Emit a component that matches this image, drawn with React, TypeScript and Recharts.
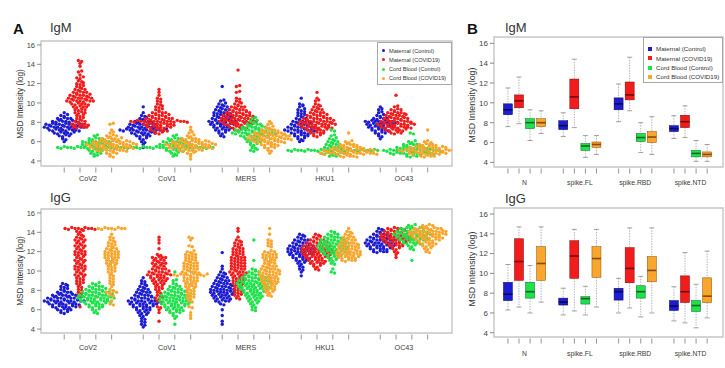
import React from "react";
import { ComposedChart, Scatter, Bar, XAxis, YAxis, ReferenceArea } from "recharts";

const groupNames = ["Maternal (Control)", "Maternal (COVID19)", "Cord Blood (Control)", "Cord Blood (COVID19)"];
const colors = ["#1c1cd0", "#f21c1c", "#1ee24a", "#f8a62c"];
const darks = ["#08085a", "#760808", "#0a6424", "#8a4806"];

const swarmLabels = ["CoV2", "CoV1", "MERS", "HKU1", "OC43"];
const boxLabels = ["N", "spike.FL", "spike.RBD", "spike.NTD"];
const yTicks = [4, 6, 8, 10, 12, 14, 16];

// IgM, log MSD intensity per sample: maternal ctl, maternal covid, cord ctl, cord covid
const igmCoV2 = [
  [9, 8.7, 8.6, 8.8, 8.4, 8.3, 8.5, 8.4, 8.4, 8.1, 8, 8.2, 8.1, 8.1, 8, 8.2, 8.1, 7.8, 7.7, 7.9, 7.8, 7.8, 7.7, 7.9, 7.8, 7.8, 7.7, 7.9, 7.8, 7.5, 7.4, 7.6, 7.5, 7.5, 7.4, 7.6, 7.5, 7.5, 7.4, 7.6, 7.5, 7.5, 7.2, 7.1, 7.3, 7.2, 7.2, 7.1, 7.3, 7.2, 7.2, 7.1, 6.9, 6.8, 7, 6.9, 6.9, 6.8, 7, 6.6, 6.5, 6.7, 6.6, 6.3, 6.2, 6],
  [14.4, 14.3, 14.1, 13.8, 13.2, 13.3, 12.9, 12.6, 12.5, 12.7, 12.3, 12.2, 12, 11.9, 12.1, 11.7, 11.6, 11.8, 11.4, 11.3, 11.5, 11.4, 11.1, 11, 11.2, 11.1, 11.1, 10.8, 10.7, 10.9, 10.8, 10.8, 10.7, 10.9, 10.5, 10.4, 10.6, 10.5, 10.5, 10.4, 10.6, 10.5, 10.2, 10.1, 10.3, 10.2, 10.2, 10.1, 10.3, 10.2, 10.2, 9.9, 9.8, 10, 9.9, 9.9, 9.8, 9.6, 9.5, 9.7, 9.6, 9.6, 9.3, 9.2, 9.4, 9.3, 9, 8.9, 9.1, 9, 8.7, 8.6, 8.8, 8.4, 8.3, 8.5, 8.1, 8, 8.2, 8.1, 7.8, 7.7, 7.9, 7.8, 7.8, 7.7, 7.5, 7.4, 7.6, 7.5, 7.5],
  [6.6, 6.7, 6.3, 6.2, 6.4, 6.3, 6.3, 6, 5.9, 6.1, 6, 6, 5.9, 6.1, 6, 6, 5.7, 5.6, 5.8, 5.7, 5.7, 5.6, 5.8, 5.7, 5.7, 5.4, 5.3, 5.5, 5.4, 5.4, 5.3, 5.5, 5.4, 5.4, 5.3, 5.5, 5.4, 5.4, 5.3, 5.5, 5.4, 5.4, 5.3, 5.5, 5.4, 5.4, 5.3, 5.5, 5.4, 5.1, 5, 5.2, 5.1, 5.1, 4.8, 4.7, 4.9, 4.8, 4.5, 4.6],
  [7.8, 7.9, 7.2, 6.9, 7, 6.6, 6.5, 6.7, 6.6, 6.3, 6.2, 6.4, 6.3, 6.3, 6.2, 6.4, 6, 5.9, 6.1, 6, 6, 5.9, 6.1, 6, 6, 5.9, 6.1, 6, 5.7, 5.6, 5.8, 5.7, 5.7, 5.6, 5.8, 5.7, 5.7, 5.6, 5.8, 5.7, 5.7, 5.6, 5.8, 5.7, 5.4, 5.3, 5.5, 5.4, 5.4, 5.3, 5.5, 5.4, 5.4, 5.3, 5.5, 5.4, 5.4, 5.3, 5.1, 5, 5.2, 5.1, 5.1, 5, 5.2, 5.1, 5.1, 5, 4.8, 4.7, 4.9, 4.8, 4.5, 4.4],
];
const igmCoV1 = [
  [9.6, 9, 8.7, 8.6, 8.4, 8.3, 8.5, 8.1, 8, 8.2, 8.1, 8.1, 8, 7.8, 7.7, 7.9, 7.8, 7.8, 7.7, 7.9, 7.8, 7.8, 7.5, 7.4, 7.6, 7.5, 7.5, 7.4, 7.6, 7.5, 7.5, 7.4, 7.2, 7.1, 7.3, 7.2, 7.2, 7.1, 7.3, 7.2, 7.2, 7.1, 7.3, 7.2, 7.2, 7.1, 7.3, 6.9, 6.8, 7, 6.9, 6.9, 6.8, 7, 6.9, 6.6, 6.5, 6.7, 6.6, 6.6, 6.3, 6.2, 6.4, 6, 5.9, 5.7, 5.4],
  [11.4, 11.1, 10.8, 10.5, 10.4, 10.2, 10.1, 9.9, 9.8, 9.6, 9.5, 9.7, 9.3, 9.2, 9.4, 9, 8.9, 9.1, 9, 9, 8.7, 8.6, 8.8, 8.7, 8.7, 8.6, 8.8, 8.4, 8.3, 8.5, 8.4, 8.4, 8.3, 8.5, 8.4, 8.4, 8.1, 8, 8.2, 8.1, 8.1, 8, 8.2, 8.1, 8.1, 8, 8.2, 8.1, 8.1, 8, 8.2, 8.1, 8.1, 8, 7.8, 7.7, 7.9, 7.8, 7.8, 7.7, 7.9, 7.8, 7.8, 7.7, 7.5, 7.4, 7.6, 7.5, 7.5, 7.4, 7.6, 7.5, 7.2, 7.1, 7.3, 7.2, 7.2, 7.1, 6.9, 6.8, 7],
  [6.6, 6.7, 6.3, 6.2, 6.4, 6.3, 6.3, 6, 5.9, 6.1, 6, 6, 5.9, 6.1, 6, 5.7, 5.6, 5.8, 5.7, 5.7, 5.6, 5.8, 5.7, 5.7, 5.6, 5.4, 5.3, 5.5, 5.4, 5.4, 5.3, 5.5, 5.4, 5.4, 5.3, 5.5, 5.4, 5.4, 5.3, 5.5, 5.4, 5.4, 5.3, 5.5, 5.4, 5.4, 5.3, 5.5, 5.4, 5.1, 5, 5.2, 5.1, 5.1, 5, 4.8, 4.7, 4.9, 4.5, 4.6],
  [7.5, 7.2, 6.9, 7, 6.6, 6.5, 6.7, 6.3, 6.2, 6.4, 6.3, 6.3, 6.2, 6, 5.9, 6.1, 6, 6, 5.9, 6.1, 6, 6, 5.9, 6.1, 6, 5.7, 5.6, 5.8, 5.7, 5.7, 5.6, 5.8, 5.7, 5.7, 5.6, 5.8, 5.7, 5.7, 5.6, 5.8, 5.7, 5.4, 5.3, 5.5, 5.4, 5.4, 5.3, 5.5, 5.4, 5.4, 5.3, 5.5, 5.4, 5.4, 5.3, 5.1, 5, 5.2, 5.1, 5.1, 5, 5.2, 5.1, 4.8, 4.7, 4.9, 4.5, 4.2],
];
const igmMERS = [
  [11.7, 10.2, 10.3, 9.9, 9.8, 10, 9.6, 9.5, 9.7, 9.6, 9.3, 9.2, 9.4, 9.3, 9.3, 9, 8.9, 9.1, 9, 9, 8.9, 8.7, 8.6, 8.8, 8.7, 8.7, 8.6, 8.4, 8.3, 8.5, 8.4, 8.4, 8.3, 8.5, 8.1, 8, 8.2, 8.1, 8.1, 8, 8.2, 8.1, 8.1, 7.8, 7.7, 7.9, 7.8, 7.8, 7.7, 7.9, 7.8, 7.5, 7.4, 7.6, 7.5, 7.5, 7.4, 7.2, 7.1, 7.3, 7.2, 7.2, 6.9, 6.8, 7, 6.6, 6.5],
  [13.4, 11.7, 11.8, 11.1, 11.2, 10.5, 10.4, 10.2, 10.1, 9.9, 9.8, 10, 9.6, 9.5, 9.7, 9.6, 9.6, 9.3, 9.2, 9.4, 9.3, 9.3, 9.2, 9, 8.9, 9.1, 9, 9, 8.9, 9.1, 9, 8.7, 8.6, 8.8, 8.7, 8.7, 8.6, 8.8, 8.7, 8.7, 8.6, 8.4, 8.3, 8.5, 8.4, 8.4, 8.3, 8.5, 8.4, 8.4, 8.3, 8.5, 8.1, 8, 8.2, 8.1, 8.1, 8, 8.2, 8.1, 8.1, 8, 8.2, 8.1, 7.8, 7.7, 7.9, 7.8, 7.8, 7.7, 7.9, 7.8, 7.8, 7.5, 7.4, 7.6, 7.5, 7.5, 7.4, 7.2, 7.1, 7.3],
  [8.4, 8.5, 8.1, 8, 8.2, 7.8, 7.7, 7.9, 7.8, 7.8, 7.5, 7.4, 7.6, 7.5, 7.5, 7.4, 7.6, 7.5, 7.2, 7.1, 7.3, 7.2, 7.2, 7.1, 7.3, 7.2, 7.2, 7.1, 7.3, 7.2, 6.9, 6.8, 7, 6.9, 6.9, 6.8, 7, 6.9, 6.9, 6.8, 7, 6.9, 6.9, 6.8, 6.6, 6.5, 6.7, 6.6, 6.6, 6.5, 6.7, 6.6, 6.6, 6.3, 6.2, 6.4, 6.3, 6.3, 6.2, 6, 5.9, 6.1, 6, 6, 5.7, 5.6, 5.8, 5.4, 5.3, 5.1, 5, 5.2],
  [8.1, 7.8, 7.9, 7.5, 7.4, 7.6, 7.2, 7.1, 7.3, 7.2, 7.2, 7.1, 6.9, 6.8, 7, 6.9, 6.9, 6.8, 7, 6.9, 6.9, 6.8, 6.6, 6.5, 6.7, 6.6, 6.6, 6.5, 6.7, 6.6, 6.6, 6.5, 6.7, 6.6, 6.6, 6.3, 6.2, 6.4, 6.3, 6.3, 6.2, 6.4, 6.3, 6.3, 6.2, 6.4, 6.3, 6.3, 6.2, 6, 5.9, 6.1, 6, 6, 5.9, 6.1, 6, 6, 5.9, 5.7, 5.6, 5.8, 5.7, 5.7, 5.6, 5.4, 5.3, 5.5, 5.4, 5.1, 5, 4.8],
];
const igmHKU1 = [
  [10.5, 9.9, 9.8, 9.6, 9.7, 9.3, 9.2, 9.4, 9, 8.9, 9.1, 8.7, 8.6, 8.8, 8.4, 8.3, 8.5, 8.4, 8.1, 8, 8.2, 8.1, 8.1, 8, 7.8, 7.7, 7.9, 7.8, 7.8, 7.7, 7.9, 7.5, 7.4, 7.6, 7.5, 7.5, 7.4, 7.6, 7.5, 7.5, 7.2, 7.1, 7.3, 7.2, 7.2, 7.1, 7.3, 7.2, 7.2, 7.1, 7.3, 6.9, 6.8, 7, 6.9, 6.9, 6.8, 7, 6.6, 6.5, 6.7, 6.6, 6.6, 6.3, 6.2, 6.4, 6, 6.1],
  [11.1, 10.5, 10.2, 10.3, 9.9, 9.8, 9.6, 9.5, 9.7, 9.3, 9.2, 9.4, 9.3, 9, 8.9, 9.1, 9, 9, 8.7, 8.6, 8.8, 8.7, 8.7, 8.6, 8.8, 8.4, 8.3, 8.5, 8.4, 8.4, 8.3, 8.5, 8.4, 8.4, 8.1, 8, 8.2, 8.1, 8.1, 8, 8.2, 8.1, 8.1, 8, 8.2, 7.8, 7.7, 7.9, 7.8, 7.8, 7.7, 7.9, 7.8, 7.8, 7.7, 7.9, 7.8, 7.5, 7.4, 7.6, 7.5, 7.5, 7.4, 7.6, 7.5, 7.5, 7.4, 7.2, 7.1, 7.3, 7.2, 7.2, 7.1, 7.3, 6.9, 6.8, 7, 6.9, 6.9, 6.6, 6.5, 6.7],
  [7.2, 7.1, 6.6, 6.7, 6.3, 6.2, 6.4, 6, 5.9, 6.1, 6, 5.7, 5.6, 5.8, 5.7, 5.7, 5.4, 5.3, 5.5, 5.4, 5.4, 5.3, 5.1, 5, 5.2, 5.1, 5.1, 5, 5.2, 5.1, 5.1, 5, 5.2, 5.1, 5.1, 5, 5.2, 5.1, 5.1, 5, 5.2, 5.1, 5.1, 5, 5.2, 5.1, 5.1, 5, 5.2, 5.1, 4.8, 4.7, 4.9, 4.8, 4.8, 4.7, 4.9, 4.8, 4.5, 4.6, 4.5],
  [6.9, 6, 5.9, 6.1, 5.7, 5.6, 5.8, 5.7, 5.7, 5.6, 5.4, 5.3, 5.5, 5.4, 5.4, 5.3, 5.5, 5.4, 5.4, 5.3, 5.1, 5, 5.2, 5.1, 5.1, 5, 5.2, 5.1, 5.1, 5, 5.2, 5.1, 5.1, 5, 5.2, 5.1, 4.8, 4.7, 4.9, 4.8, 4.8, 4.7, 4.9, 4.8, 4.8, 4.7, 4.9, 4.8, 4.8, 4.7, 4.9, 4.8, 4.8, 4.7, 4.5, 4.4, 4.6, 4.5, 4.5, 4.4],
];
const igmOC43 = [
  [9.6, 9.3, 9.4, 9, 9.1, 8.7, 8.6, 8.8, 8.4, 8.3, 8.5, 8.4, 8.4, 8.1, 8, 8.2, 8.1, 8.1, 8, 8.2, 8.1, 8.1, 8, 7.8, 7.7, 7.9, 7.8, 7.8, 7.7, 7.9, 7.8, 7.8, 7.5, 7.4, 7.6, 7.5, 7.5, 7.4, 7.6, 7.5, 7.2, 7.1, 7.3, 7.2, 7.2, 7.1, 6.9, 6.8, 7, 6.9, 6.6, 6.5, 6.3],
  [10.8, 9.6, 9.7, 9.3, 9.2, 9.4, 9.3, 9, 8.9, 9.1, 9, 9, 8.9, 8.7, 8.6, 8.8, 8.7, 8.7, 8.6, 8.8, 8.4, 8.3, 8.5, 8.4, 8.4, 8.3, 8.5, 8.4, 8.1, 8, 8.2, 8.1, 8.1, 8, 8.2, 8.1, 8.1, 8, 7.8, 7.7, 7.9, 7.8, 7.8, 7.7, 7.9, 7.8, 7.8, 7.7, 7.9, 7.8, 7.5, 7.4, 7.6, 7.5, 7.5, 7.4, 7.6, 7.5, 7.5, 7.4, 7.2, 7.1, 7.3, 7.2, 7.2, 7.1, 7.3, 6.9, 6.8, 7, 6.9],
  [6.9, 6.8, 6, 5.9, 6.1, 5.7, 5.6, 5.8, 5.7, 5.7, 5.6, 5.4, 5.3, 5.5, 5.4, 5.4, 5.3, 5.5, 5.4, 5.4, 5.3, 5.1, 5, 5.2, 5.1, 5.1, 5, 5.2, 5.1, 5.1, 5, 5.2, 5.1, 5.1, 5, 5.2, 5.1, 5.1, 5, 4.8, 4.7, 4.9, 4.8, 4.8, 4.7, 4.9, 4.8, 4.8, 4.7, 4.9, 4.8, 4.8, 4.7, 4.5, 4.4, 4.6, 4.5],
  [7.2, 6, 6.1, 5.9, 5.7, 5.6, 5.8, 5.7, 5.7, 5.6, 5.4, 5.3, 5.5, 5.4, 5.4, 5.3, 5.5, 5.4, 5.4, 5.3, 5.5, 5.4, 5.1, 5, 5.2, 5.1, 5.1, 5, 5.2, 5.1, 5.1, 5, 5.2, 5.1, 5.1, 5, 5.2, 5.1, 5.1, 5, 4.8, 4.7, 4.9, 4.8, 4.8, 4.7, 4.9, 4.8, 4.8, 4.7, 4.9, 4.8, 4.5, 4.4, 4.6, 4.5, 4.5],
];

// IgG, same order
const iggCoV2 = [
  [8.7, 8.6, 8.4, 8.3, 8.5, 8.1, 8, 8.2, 7.8, 7.7, 7.9, 7.8, 7.8, 7.5, 7.4, 7.6, 7.5, 7.5, 7.4, 7.6, 7.5, 7.2, 7.1, 7.3, 7.2, 7.2, 7.1, 7.3, 7.2, 7.2, 7.1, 7.3, 6.9, 6.8, 7, 6.9, 6.9, 6.8, 7, 6.9, 6.9, 6.8, 7, 6.9, 6.9, 6.6, 6.5, 6.7, 6.6, 6.6, 6.5, 6.7, 6.6, 6.6, 6.5, 6.3, 6.2, 6.4, 6.3, 6.3, 6.2, 6.4, 6.3, 6, 5.9, 6.1, 6, 6, 5.7, 5.6, 5.8],
  [14.4, 14.3, 14.5, 14.4, 14.4, 14.3, 14.5, 14.4, 14.4, 14.3, 14.1, 14, 14.2, 13.8, 13.7, 13.5, 13.4, 13.6, 13.2, 13.1, 13.3, 13.2, 12.9, 12.8, 13, 12.6, 12.5, 12.7, 12.6, 12.3, 12.2, 12.4, 12, 11.9, 12.1, 12, 11.7, 11.6, 11.8, 11.7, 11.4, 11.3, 11.5, 11.1, 11, 11.2, 11.1, 10.8, 10.7, 10.9, 10.5, 10.4, 10.6, 10.5, 10.2, 10.1, 10.3, 10.2, 9.9, 9.8, 10, 9.6, 9.5, 9.7, 9.6, 9.3, 9.2, 9.4, 9, 8.9, 9.1, 8.7, 8.6, 8.8, 8.4, 8.3, 8.1, 8, 7.8, 7.7, 7.5, 7.4, 6.3],
  [8.7, 8.6, 8.8, 8.4, 8.3, 8.5, 8.4, 8.4, 8.1, 8, 8.2, 8.1, 8.1, 8, 8.2, 7.8, 7.7, 7.9, 7.8, 7.8, 7.7, 7.9, 7.8, 7.8, 7.5, 7.4, 7.6, 7.5, 7.5, 7.4, 7.6, 7.5, 7.5, 7.4, 7.6, 7.2, 7.1, 7.3, 7.2, 7.2, 7.1, 7.3, 7.2, 7.2, 7.1, 7.3, 7.2, 6.9, 6.8, 7, 6.9, 6.9, 6.8, 7, 6.9, 6.9, 6.8, 6.6, 6.5, 6.7, 6.6, 6.6, 6.5, 6.7, 6.3, 6.2, 6.4, 6.3, 6.3, 6, 5.9, 6.1, 5.7, 5.6],
  [14.4, 14.3, 14.5, 14.4, 14.4, 14.3, 14.5, 14.4, 14.4, 13.8, 13.5, 13.4, 13.2, 13.1, 12.9, 12.8, 13, 12.6, 12.5, 12.7, 12.3, 12.2, 12.4, 12.3, 12, 11.9, 12.1, 12, 12, 11.7, 11.6, 11.8, 11.7, 11.7, 11.4, 11.3, 11.5, 11.4, 11.4, 11.1, 11, 11.2, 11.1, 10.8, 10.7, 10.9, 10.8, 10.5, 10.4, 10.6, 10.2, 10.1, 10.3, 9.9, 9.8, 10, 9.6, 9.5, 9.3, 9.2, 9, 8.9, 8.7, 8.6, 8.4, 8.1, 8, 7.8, 7.7, 7.9, 7.8, 7.5, 7.4, 6.9, 6.6, 6.5],
];
const iggCoV1 = [
  [9.3, 9, 8.9, 8.7, 8.6, 8.4, 8.3, 8.5, 8.1, 8, 8.2, 8.1, 7.8, 7.7, 7.9, 7.8, 7.8, 7.5, 7.4, 7.6, 7.5, 7.5, 7.4, 7.2, 7.1, 7.3, 7.2, 7.2, 7.1, 7.3, 7.2, 6.9, 6.8, 7, 6.9, 6.9, 6.8, 7, 6.9, 6.9, 6.8, 6.6, 6.5, 6.7, 6.6, 6.6, 6.5, 6.7, 6.6, 6.6, 6.3, 6.2, 6.4, 6.3, 6.3, 6.2, 6.4, 6, 5.9, 6.1, 6, 6, 5.7, 5.6, 5.8, 5.7, 5.4, 5.3, 5.5, 5.1, 5, 4.8, 4.7, 4.5, 4.4, 4.2],
  [13.5, 13.2, 12.9, 12.3, 11.7, 11.6, 11.4, 11.3, 11.5, 11.4, 11.4, 11.1, 11, 11.2, 11.1, 10.8, 10.7, 10.9, 10.8, 10.8, 10.5, 10.4, 10.6, 10.5, 10.2, 10.1, 10.3, 10.2, 10.2, 9.9, 9.8, 10, 9.9, 9.9, 9.8, 10, 9.6, 9.5, 9.7, 9.6, 9.6, 9.5, 9.7, 9.6, 9.3, 9.2, 9.4, 9.3, 9.3, 9.2, 9, 8.9, 9.1, 9, 9, 8.7, 8.6, 8.8, 8.7, 8.4, 8.3, 8.5, 8.1, 8, 8.2, 7.8, 7.7, 7.5, 7.4, 7.2, 7.1, 7.3, 6.9, 6.8, 6.3, 6.2, 6, 5.7, 4.8],
  [9.9, 9, 9.1, 8.7, 8.6, 8.4, 8.3, 8.5, 8.4, 8.1, 8, 8.2, 8.1, 8.1, 7.8, 7.7, 7.9, 7.8, 7.8, 7.7, 7.9, 7.5, 7.4, 7.6, 7.5, 7.5, 7.4, 7.6, 7.5, 7.5, 7.2, 7.1, 7.3, 7.2, 7.2, 7.1, 7.3, 7.2, 7.2, 7.1, 6.9, 6.8, 7, 6.9, 6.9, 6.8, 7, 6.9, 6.9, 6.8, 6.6, 6.5, 6.7, 6.6, 6.6, 6.5, 6.7, 6.6, 6.6, 6.3, 6.2, 6.4, 6.3, 6.3, 6.2, 6.4, 6, 5.9, 6.1, 6, 6, 5.9, 5.7, 5.6, 5.8, 5.7, 5.4, 5.3, 5.1, 4.5],
  [13.5, 13.4, 13.2, 12.6, 12.5, 12, 11.9, 12.1, 11.7, 11.6, 11.8, 11.7, 11.4, 11.3, 11.5, 11.4, 11.1, 11, 11.2, 11.1, 10.8, 10.7, 10.9, 10.8, 10.8, 10.5, 10.4, 10.6, 10.5, 10.5, 10.2, 10.1, 10.3, 10.2, 10.2, 9.9, 9.8, 10, 9.9, 9.9, 9.8, 9.6, 9.5, 9.7, 9.6, 9.6, 9.5, 9.7, 9.6, 9.6, 9.5, 9.7, 9.3, 9.2, 9.4, 9.3, 9.3, 9, 8.9, 9.1, 9, 9, 8.7, 8.6, 8.8, 8.7, 8.4, 8.3, 8.5, 8.4, 8.1, 8, 8.2, 7.8, 7.7, 7.9, 7.5, 7.4, 7.6, 7.2, 7.1, 7.3, 6.9, 6.8, 6.3, 6.2, 5.7, 5.4, 5.1],
];
const iggMERS = [
  [11.9, 10.5, 10.2, 9.9, 9.8, 9.6, 9.5, 9.7, 9.3, 9.2, 9.4, 9.3, 9, 8.9, 9.1, 9, 9, 8.7, 8.6, 8.8, 8.7, 8.7, 8.6, 8.4, 8.3, 8.5, 8.4, 8.4, 8.3, 8.5, 8.1, 8, 8.2, 8.1, 8.1, 8, 8.2, 8.1, 7.8, 7.7, 7.9, 7.8, 7.8, 7.7, 7.9, 7.8, 7.5, 7.4, 7.6, 7.5, 7.5, 7.4, 7.6, 7.2, 7.1, 7.3, 7.2, 7.2, 7.1, 6.9, 6.8, 7, 6.9, 6.9, 6.6, 6.5, 6, 5.4, 4.8, 4.5],
  [14.4, 14.1, 13.5, 13.2, 13.1, 12.9, 12.8, 13, 12.6, 12.5, 12.7, 12.3, 12.2, 12.4, 12.3, 12, 11.9, 12.1, 12, 11.7, 11.6, 11.8, 11.7, 11.4, 11.3, 11.5, 11.4, 11.4, 11.1, 11, 11.2, 11.1, 11.1, 10.8, 10.7, 10.9, 10.8, 10.8, 10.5, 10.4, 10.6, 10.5, 10.5, 10.2, 10.1, 10.3, 10.2, 10.2, 9.9, 9.8, 10, 9.9, 9.9, 9.8, 9.6, 9.5, 9.7, 9.6, 9.6, 9.3, 9.2, 9.4, 9.3, 9, 8.9, 9.1, 9, 8.7, 8.6, 8.8, 8.7, 8.4, 8.3, 8.5, 8.1, 8, 8.2, 7.8, 7.7, 7.9, 7.5, 7.4, 7.6, 7.2, 7.1],
  [13.2, 11.1, 10.2, 10.1, 9.9, 9.8, 10, 9.9, 9.6, 9.5, 9.7, 9.6, 9.6, 9.5, 9.3, 9.2, 9.4, 9.3, 9.3, 9.2, 9.4, 9.3, 9, 8.9, 9.1, 9, 9, 8.9, 9.1, 9, 9, 8.9, 8.7, 8.6, 8.8, 8.7, 8.7, 8.6, 8.8, 8.7, 8.7, 8.6, 8.8, 8.4, 8.3, 8.5, 8.4, 8.4, 8.3, 8.5, 8.4, 8.4, 8.3, 8.1, 8, 8.2, 8.1, 8.1, 8, 8.2, 8.1, 8.1, 7.8, 7.7, 7.9, 7.8, 7.8, 7.7, 7.9, 7.5, 7.4, 7.6, 7.5, 7.5, 7.4, 7.2, 7.1, 7.3, 7.2, 7.2, 6.9, 6.8, 7, 6.9, 6.6, 6.5, 6.7, 6.3, 6.2, 6, 5.9],
  [14.4, 13.8, 13.2, 13.1, 12.9, 12.8, 12.6, 12.5, 12, 11.9, 12.1, 12, 11.7, 11.6, 11.8, 11.7, 11.7, 11.4, 11.3, 11.5, 11.4, 11.4, 11.1, 11, 11.2, 11.1, 10.8, 10.7, 10.9, 10.8, 10.5, 10.4, 10.6, 10.5, 10.5, 10.2, 10.1, 10.3, 10.2, 10.2, 10.1, 9.9, 9.8, 10, 9.9, 9.9, 9.8, 10, 9.6, 9.5, 9.7, 9.6, 9.6, 9.5, 9.7, 9.3, 9.2, 9.4, 9.3, 9.3, 9.2, 9, 8.9, 9.1, 9, 9, 8.9, 8.7, 8.6, 8.8, 8.7, 8.7, 8.4, 8.3, 8.5, 8.4, 8.1, 8, 8.2, 8.1, 7.8, 7.7, 7.9, 7.5, 7.4],
];
const iggHKU1 = [
  [13.8, 13.7, 13.5, 13.4, 13.6, 13.2, 13.1, 13.3, 13.2, 13.2, 12.9, 12.8, 13, 12.9, 12.9, 12.8, 12.6, 12.5, 12.7, 12.6, 12.6, 12.5, 12.7, 12.6, 12.3, 12.2, 12.4, 12.3, 12.3, 12.2, 12.4, 12.3, 12.3, 12, 11.9, 12.1, 12, 12, 11.9, 12.1, 12, 12, 11.7, 11.6, 11.8, 11.7, 11.7, 11.6, 11.8, 11.7, 11.4, 11.3, 11.5, 11.4, 11.4, 11.3, 11.1, 11, 11.2, 11.1, 10.8, 10.7, 10.9, 10.5, 10.4, 10.2, 10.1, 9.9, 9.5],
  [13.8, 13.7, 13.5, 13.4, 13.6, 13.2, 13.1, 13.3, 13.2, 13.2, 12.9, 12.8, 13, 12.9, 12.9, 12.8, 13, 12.6, 12.5, 12.7, 12.6, 12.6, 12.5, 12.7, 12.6, 12.6, 12.3, 12.2, 12.4, 12.3, 12.3, 12.2, 12.4, 12.3, 12.3, 12.2, 12, 11.9, 12.1, 12, 12, 11.9, 12.1, 12, 12, 11.9, 11.7, 11.6, 11.8, 11.7, 11.7, 11.6, 11.8, 11.7, 11.7, 11.4, 11.3, 11.5, 11.4, 11.4, 11.3, 11.5, 11.4, 11.1, 11, 11.2, 11.1, 11.1, 11, 10.8, 10.7, 10.9, 10.8, 10.8, 10.5, 10.4, 10.6, 10.2, 10.1],
  [14.1, 14, 13.8, 13.7, 13.9, 13.8, 13.5, 13.4, 13.6, 13.5, 13.5, 13.4, 13.2, 13.1, 13.3, 13.2, 13.2, 13.1, 13.3, 13.2, 12.9, 12.8, 13, 12.9, 12.9, 12.8, 13, 12.9, 12.9, 12.6, 12.5, 12.7, 12.6, 12.6, 12.5, 12.7, 12.6, 12.6, 12.5, 12.3, 12.2, 12.4, 12.3, 12.3, 12.2, 12.4, 12.3, 12.3, 12, 11.9, 12.1, 12, 12, 11.9, 12.1, 12, 11.7, 11.6, 11.8, 11.7, 11.7, 11.6, 11.4, 11.3, 11.5, 11.4, 11.1, 11, 11.2, 10.8, 10.7, 10.2, 9.9, 9.8],
  [14.4, 14.1, 14, 13.8, 13.7, 13.9, 13.5, 13.4, 13.6, 13.5, 13.2, 13.1, 13.3, 13.2, 13.2, 12.9, 12.8, 13, 12.9, 12.9, 12.8, 12.6, 12.5, 12.7, 12.6, 12.6, 12.5, 12.7, 12.3, 12.2, 12.4, 12.3, 12.3, 12.2, 12.4, 12, 11.9, 12.1, 12, 12, 11.9, 12.1, 12, 11.7, 11.6, 11.8, 11.7, 11.7, 11.6, 11.8, 11.7, 11.4, 11.3, 11.5, 11.4, 11.4, 11.3, 11.5, 11.1, 11, 11.2, 11.1, 11.1],
];
const iggOC43 = [
  [14.4, 14.3, 14.1, 14, 14.2, 13.8, 13.7, 13.9, 13.8, 13.8, 13.5, 13.4, 13.6, 13.5, 13.5, 13.4, 13.6, 13.2, 13.1, 13.3, 13.2, 13.2, 13.1, 13.3, 13.2, 13.2, 12.9, 12.8, 13, 12.9, 12.9, 12.8, 13, 12.9, 12.9, 12.8, 12.6, 12.5, 12.7, 12.6, 12.6, 12.5, 12.7, 12.6, 12.6, 12.3, 12.2, 12.4, 12.3, 12.3, 12.2, 12.4, 12, 11.9, 12.1, 12, 12],
  [14.4, 14.3, 14.5, 14.4, 14.4, 14.3, 14.1, 14, 14.2, 14.1, 14.1, 14, 14.2, 14.1, 13.8, 13.7, 13.9, 13.8, 13.8, 13.7, 13.9, 13.8, 13.8, 13.7, 13.5, 13.4, 13.6, 13.5, 13.5, 13.4, 13.6, 13.5, 13.5, 13.4, 13.2, 13.1, 13.3, 13.2, 13.2, 13.1, 13.3, 13.2, 13.2, 12.9, 12.8, 13, 12.9, 12.9, 12.8, 13, 12.6, 12.5, 12.7, 12.6, 12.6, 12.3, 12.2, 12.4, 12, 11.9, 11.7, 11.4],
  [14.7, 14.6, 14.8, 14.4, 14.3, 14.5, 14.4, 14.4, 14.3, 14.5, 14.4, 14.1, 14, 14.2, 14.1, 14.1, 14, 14.2, 14.1, 14.1, 14, 13.8, 13.7, 13.9, 13.8, 13.8, 13.7, 13.9, 13.8, 13.8, 13.7, 13.9, 13.8, 13.5, 13.4, 13.6, 13.5, 13.5, 13.4, 13.6, 13.5, 13.5, 13.4, 13.2, 13.1, 13.3, 13.2, 13.2, 13.1, 13.3, 13.2, 12.9, 12.8, 13, 12.9, 12.9, 12.8, 12.6, 12.5, 12.7, 12.3, 12.2, 11.1],
  [14.7, 14.6, 14.8, 14.7, 14.4, 14.3, 14.5, 14.4, 14.4, 14.3, 14.5, 14.4, 14.4, 14.1, 14, 14.2, 14.1, 14.1, 14, 14.2, 14.1, 14.1, 14, 14.2, 14.1, 13.8, 13.7, 13.9, 13.8, 13.8, 13.7, 13.9, 13.8, 13.8, 13.7, 13.9, 13.8, 13.5, 13.4, 13.6, 13.5, 13.5, 13.4, 13.6, 13.5, 13.5, 13.4, 13.2, 13.1, 13.3, 13.2, 13.2, 13.1, 13.3, 13.2, 12.9, 12.8, 13, 12.9, 12.9, 12.8, 12.6, 12.5, 12.7, 12.6, 12.3, 12.2, 12.4, 12, 11.9],
];

// panel B box stats per group: [min, q1, median, q3, max]
const igmN = [[7.6, 8.8, 9.3, 9.9, 11.5], [7.9, 9.5, 10.2, 10.8, 12.6], [6.2, 7.4, 8.0, 8.4, 9.3], [6.9, 7.6, 8.0, 8.4, 9.2]];
const igmFL = [[6.6, 7.3, 7.7, 8.2, 9.0], [7.5, 9.4, 10.6, 12.4, 14.4], [4.5, 5.2, 5.65, 5.9, 6.7], [4.8, 5.5, 5.8, 6.05, 6.7]];
const igmRBD = [[8.1, 9.3, 9.9, 10.5, 11.9], [9.2, 10.3, 10.8, 12.1, 14.6], [5.0, 6.1, 6.5, 6.9, 8.0], [4.8, 6.0, 6.55, 7.1, 8.6]];
const igmNTD = [[6.4, 7.1, 7.4, 7.7, 8.7], [6.5, 7.5, 8.1, 8.75, 9.7], [4.1, 4.55, 4.9, 5.2, 6.2], [4.1, 4.55, 4.8, 5.05, 5.8]];
const iggN = [[6.3, 7.25, 7.9, 9.1, 10.9], [6.6, 9.3, 11.2, 13.5, 14.7], [6.0, 7.5, 8.15, 9.1, 10.8], [7.1, 9.3, 11.0, 12.7, 14.7]];
const iggFL = [[5.8, 6.8, 7.1, 7.5, 8.5], [6.2, 9.5, 11.75, 13.3, 14.45], [5.8, 6.9, 7.45, 7.65, 8.7], [6.6, 9.6, 11.5, 12.7, 14.45]];
const iggRBD = [[6.0, 7.3, 8.15, 8.5, 9.5], [6.5, 9.05, 10.5, 12.6, 14.6], [5.6, 7.5, 8.15, 8.75, 9.7], [6.0, 9.15, 10.3, 11.7, 14.6]];
const iggNTD = [[5.2, 6.25, 6.7, 7.25, 8.65], [5.0, 7.05, 8.15, 9.75, 12.1], [4.5, 6.15, 6.75, 7.25, 8.9], [5.5, 7.05, 7.7, 9.55, 12.25]];

const igmSwarm = [igmCoV2, igmCoV1, igmMERS, igmHKU1, igmOC43];
const iggSwarm = [iggCoV2, iggCoV1, iggMERS, iggHKU1, iggOC43];
const igmBox = [igmN, igmFL, igmRBD, igmNTD];
const iggBox = [iggN, iggFL, iggRBD, iggNTD];

const pos = (g: number, s: number) => g * 5 + s + 1;
const BIN = 0.3;
const STEP = 0.21;

function swarmPoints(panel: number[][][]) {
  const pts: { x: number; y: number; c: number }[] = [];
  panel.forEach((ag, g) =>
    ag.forEach((vals, s) => {
      const rows = new Map<number, number[]>();
      vals.forEach((v) => {
        const k = Math.round(v / BIN);
        if (!rows.has(k)) rows.set(k, []);
        rows.get(k)!.push(v);
      });
      rows.forEach((r) => r.forEach((v, i) => pts.push({ x: pos(g, s) + (i - (r.length - 1) / 2) * STEP, y: v, c: s })));
    })
  );
  return pts;
}

function quantile(s: number[], p: number) {
  const h = (s.length - 1) * p;
  const lo = Math.floor(h);
  return s[lo] + (h - lo) * (s[Math.ceil(h)] - s[lo]);
}

function fiveNum(vals: number[]) {
  const s = [...vals].sort((a, b) => a - b);
  const q1 = quantile(s, 0.25);
  const med = quantile(s, 0.5);
  const q3 = quantile(s, 0.75);
  const f = 1.5 * (q3 - q1);
  const lo = s.find((v) => v >= q1 - f)!;
  const hi = [...s].reverse().find((v) => v <= q3 + f)!;
  return [lo, q1, med, q3, hi];
}

const groupTicks = (n: number) =>
  Array.from({ length: n }, (_, g) => [pos(g, 0), pos(g, 1), pos(g, 0) + 1.5, pos(g, 2), pos(g, 3)]).flat();

const makeTick = (labels: string[], off: number, fs: number) => (p: any) => {
  const v = p.payload.value;
  if (Number.isInteger(v))
    return <line x1={p.x} x2={p.x} y1={p.y + 1.5} y2={p.y + 6.5} stroke="#7a7a7a" strokeWidth={0.8} />;
  return (
    <text x={p.x} y={p.y + off} textAnchor="middle" dominantBaseline="central" fontSize={fs} fill="#3a3a3a">
      {labels[Math.floor(v / 5)]}
    </text>
  );
};

function boxGeom(props: any) {
  const { x, y, width, height, payload } = props;
  const [lo, q1, med, q3, hi] = payload.s;
  const top = Math.min(y, y + height);
  const h = Math.abs(height);
  const k = q3 > q1 ? h / (q3 - q1) : 0;
  const at = (v: number) => top + (q3 - v) * k;
  return { x, width, top, h, cx: x + width / 2, yHi: at(hi), yLo: at(lo), yMed: at(med), c: payload.c };
}

function GrayBox(props: any) {
  const b = boxGeom(props);
  const cap = b.width * 0.25;
  return (
    <g>
      <line x1={b.cx} x2={b.cx} y1={b.yHi} y2={b.top} stroke="#bdbdbd" strokeWidth={0.7} strokeDasharray="1.5 1.5" />
      <line x1={b.cx} x2={b.cx} y1={b.top + b.h} y2={b.yLo} stroke="#bdbdbd" strokeWidth={0.7} strokeDasharray="1.5 1.5" />
      <line x1={b.cx - cap} x2={b.cx + cap} y1={b.yHi} y2={b.yHi} stroke="#b0b0b0" strokeWidth={0.7} />
      <line x1={b.cx - cap} x2={b.cx + cap} y1={b.yLo} y2={b.yLo} stroke="#b0b0b0" strokeWidth={0.7} />
      <rect x={b.x} y={b.top} width={b.width} height={b.h} fill="none" stroke="#adadad" strokeWidth={0.7} />
      <line x1={b.x} x2={b.x + b.width} y1={b.yMed} y2={b.yMed} stroke="#5a5a5a" strokeWidth={1} />
    </g>
  );
}

function ColorBox(props: any) {
  const b = boxGeom(props);
  const cap = b.width * 0.28;
  return (
    <g>
      <line x1={b.cx} x2={b.cx} y1={b.yHi} y2={b.top} stroke="#9e9e9e" strokeWidth={0.8} strokeDasharray="1.4 1.2" />
      <line x1={b.cx} x2={b.cx} y1={b.top + b.h} y2={b.yLo} stroke="#9e9e9e" strokeWidth={0.8} strokeDasharray="1.4 1.2" />
      <line x1={b.cx - cap} x2={b.cx + cap} y1={b.yHi} y2={b.yHi} stroke="#8a8a8a" strokeWidth={0.8} />
      <line x1={b.cx - cap} x2={b.cx + cap} y1={b.yLo} y2={b.yLo} stroke="#8a8a8a" strokeWidth={0.8} />
      <rect x={b.x} y={b.top} width={b.width} height={b.h} fill={colors[b.c]} stroke={darks[b.c]} strokeWidth={0.5} />
      <line x1={b.x} x2={b.x + b.width} y1={b.yMed} y2={b.yMed} stroke={darks[b.c]} strokeWidth={1.6} />
    </g>
  );
}

const Dot = (p: any) => <circle cx={p.cx} cy={p.cy} r={1.7} fill={colors[p.payload.c]} />;

const axisFont = "'Liberation Sans', Arial, sans-serif";

function SwarmPanel({ top, height, marginTop, panel, yDomain, labelOff }: any) {
  const xDomain = [-0.47, 25.54];
  const points = swarmPoints(panel);
  const boxes = panel.flatMap((ag: number[][], g: number) =>
    ag.map((vals, s) => {
      const st = fiveNum(vals);
      return { x: pos(g, s), box: [st[1], st[3]], s: st, c: s };
    })
  );
  return (
    <div style={{ position: "absolute", left: 0, top }}>
      <ComposedChart width={460} height={height} data={boxes} margin={{ top: marginTop, right: 8, bottom: 0, left: 0 }}>
        <XAxis xAxisId="m" dataKey="x" type="number" domain={xDomain} allowDataOverflow ticks={groupTicks(5)} interval={0}
          tick={makeTick(swarmLabels, labelOff, 7.2)} tickLine={false} axisLine={false} tickSize={0} tickMargin={0} height={24} />
        <YAxis dataKey="y" type="number" domain={yDomain} allowDataOverflow ticks={yTicks} interval={0} width={41}
          tickSize={4} tickMargin={2} axisLine={false} tick={{ fontSize: 7.5, fill: "#444" }} tickLine={{ stroke: "#888" }} />
        <ReferenceArea xAxisId="m" x1={xDomain[0]} x2={xDomain[1]} y1={yDomain[0]} y2={yDomain[1]}
          fill="none" stroke="#c6c6c6" strokeWidth={1.4} ifOverflow="visible" />
        <Scatter xAxisId="m" data={points} dataKey="y" shape={Dot} isAnimationActive={false} />
        <Bar xAxisId="m" dataKey="box" barSize={12} shape={GrayBox} isAnimationActive={false} />
      </ComposedChart>
    </div>
  );
}

function BoxPanel({ top, height, marginTop, panel, yDomain, labelOff }: any) {
  const xDomain = [-0.26, 20.43];
  const rows = panel.flatMap((ag: number[][], g: number) =>
    ag.map((st, s) => ({ x: pos(g, s), box: [st[1], st[3]], s: st, c: s }))
  );
  return (
    <div style={{ position: "absolute", left: 460, top }}>
      <ComposedChart width={265} height={height} data={rows} margin={{ top: marginTop, right: 2, bottom: 0, left: 0 }}>
        <XAxis xAxisId="m" dataKey="x" type="number" domain={xDomain} allowDataOverflow ticks={groupTicks(4)} interval={0}
          tick={makeTick(boxLabels, labelOff, 6.8)} tickLine={false} axisLine={false} tickSize={0} tickMargin={0} height={24} />
        <YAxis type="number" domain={yDomain} allowDataOverflow ticks={yTicks} interval={0} width={34}
          tickSize={4} tickMargin={2} axisLine={false} tick={{ fontSize: 8, fill: "#444" }} tickLine={{ stroke: "#888" }} />
        <ReferenceArea xAxisId="m" x1={xDomain[0]} x2={xDomain[1]} y1={yDomain[0]} y2={yDomain[1]}
          fill="none" stroke="#c6c6c6" strokeWidth={1.4} ifOverflow="visible" />
        <Bar xAxisId="m" dataKey="box" barSize={9} shape={ColorBox} isAnimationActive={false} />
      </ComposedChart>
    </div>
  );
}

function LegendBox({ left, top, width, height, first, gap, fs, square }: any) {
  return (
    <div style={{ position: "absolute", left, top, width, height, border: "1px solid #a8a8a8", boxSizing: "border-box", background: "#fff" }}>
      {groupNames.map((n, i) => (
        <div key={n} style={{ position: "absolute", left: square ? 4 : 4, top: first + i * gap - 5, height: 10, display: "flex", alignItems: "center", fontSize: fs, color: "#333", whiteSpace: "nowrap" }}>
          <span style={{ display: "inline-block", width: square ? 4 : 3, height: square ? 4 : 3, borderRadius: square ? 0 : "50%", background: colors[i], marginRight: square ? 4 : 4 }} />
          {n}
        </div>
      ))}
    </div>
  );
}

const Title = ({ left, top, text, bold }: any) => (
  <div style={{ position: "absolute", left, top, fontSize: bold ? 15 : 13, fontWeight: bold ? 700 : 400, lineHeight: 1, color: bold ? "#111" : "#333" }}>{text}</div>
);

const YLabel = ({ x, y, fs }: any) => (
  <div style={{ position: "absolute", left: x, top: y, transform: "translate(-50%, -50%) rotate(-90deg)", fontSize: fs, color: "#333", whiteSpace: "nowrap", lineHeight: 1 }}>
    MSD Intensity (log)
  </div>
);

export default function App() {
  return (
    <div style={{ position: "absolute", left: 0, top: 0, width: 725, height: 368, background: "#fff", fontFamily: axisFont, overflow: "hidden" }}>
      <SwarmPanel top={0} height={190} marginTop={41} panel={igmSwarm} yDomain={[3.48, 16.41]} labelOff={12.5} />
      <SwarmPanel top={168} height={189} marginTop={41} panel={iggSwarm} yDomain={[3.59, 16.41]} labelOff={14} />
      <BoxPanel top={0} height={191} marginTop={37} panel={igmBox} yDomain={[3.53, 16.64]} labelOff={15} />
      <BoxPanel top={168} height={193} marginTop={40} panel={iggBox} yDomain={[3.57, 16.61]} labelOff={16} />

      <Title left={13} top={21} text="A" bold />
      <Title left={50} top={21} text="IgM" />
      <Title left={50} top={191} text="IgG" />
      <Title left={467} top={21} text="B" bold />
      <Title left={505} top={21} text="IgM" />
      <Title left={505} top={192} text="IgG" />

      <YLabel x={21} y={104} fs={8.2} />
      <YLabel x={21} y={271} fs={8.2} />
      <YLabel x={472} y={105} fs={8.8} />
      <YLabel x={472} y={269} fs={8.8} />

      <LegendBox left={377} top={42} width={75} height={43} first={7.5} gap={9.25} fs={5.6} />
      <LegendBox left={643} top={37} width={80} height={46} first={10.7} gap={9.4} fs={6.2} square />
    </div>
  );
}
